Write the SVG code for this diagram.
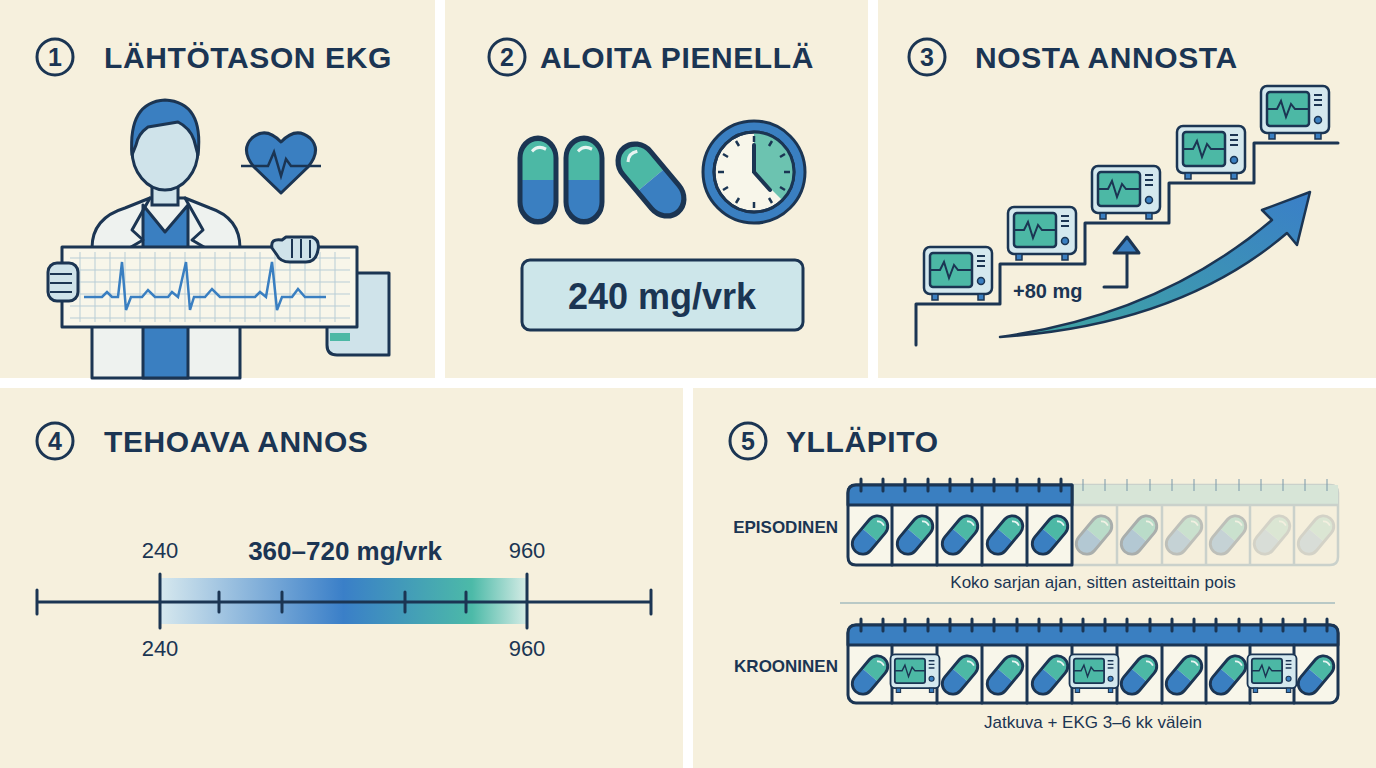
<svg xmlns="http://www.w3.org/2000/svg" width="1376" height="768" viewBox="0 0 1376 768">
<defs>
<style>
.title{font-family:"Liberation Sans",Arial,sans-serif;font-weight:bold;font-size:30px;fill:#1b3553;letter-spacing:0.6px}
.num{font-family:"Liberation Sans",Arial,sans-serif;font-weight:bold;font-size:25px;fill:#1b3553;text-anchor:middle}
.lbl{font-family:"Liberation Sans",Arial,sans-serif;fill:#1b3553}
.nv{stroke:#1b3553;stroke-width:3;stroke-linejoin:round;stroke-linecap:round}
.panel{fill:#f6f0dd}
</style>
<linearGradient id="bar" x1="0" x2="1" y1="0" y2="0">
<stop offset="0" stop-color="#d6e8ee"/><stop offset="0.5" stop-color="#3a7fc8"/><stop offset="0.85" stop-color="#4cbaa8"/><stop offset="1" stop-color="#d6ece6"/>
</linearGradient>
<linearGradient id="arr" x1="0" x2="1" y1="1" y2="0">
<stop offset="0" stop-color="#3fa7a0"/><stop offset="1" stop-color="#3a7fc8"/>
</linearGradient>
<g id="cap">
<path d="M-9,0V-10A9,9 0 0 1 9,-10V0Z" fill="#4cb8a5"/>
<path d="M-9,0V10A9,9 0 0 0 9,10V0Z" fill="#3a7fc1"/>
<rect x="-9" y="-19" width="18" height="38" rx="9" fill="none" stroke="#1b3553" stroke-width="2.5"/>
<path d="M-3,-13Q0,-16 4,-14" fill="none" stroke="#e8f4f2" stroke-width="1.5"/>
</g>
<g id="mon">
<rect x="-34" y="-26" width="68" height="47" rx="6" fill="#d4e8ee" stroke="#1b3553" stroke-width="2.5"/>
<rect x="-28" y="-20" width="42" height="34" rx="3" fill="#4cb8a5" stroke="#1b3553" stroke-width="2.5"/>
<polyline points="-28,-3 -18,-3 -14,-11 -9,5 -4,-8 0,-3 14,-3" fill="none" stroke="#1b3553" stroke-width="2"/>
<path d="M19,-17h8M19,-12h8M19,-7h8" stroke="#1b3553" stroke-width="2"/>
<circle cx="23" cy="8" r="3.5" fill="#3a7fc1" stroke="#1b3553" stroke-width="1.5"/>
<rect x="-26" y="21" width="6" height="6" fill="#3a7fc1" stroke="#1b3553" stroke-width="1.5"/>
<rect x="20" y="21" width="6" height="6" fill="#3a7fc1" stroke="#1b3553" stroke-width="1.5"/>
</g>
</defs>
<rect width="1376" height="768" fill="#ffffff"/>
<rect class="panel" x="0" y="0" width="435" height="378"/>
<rect class="panel" x="445" y="0" width="423" height="378"/>
<rect class="panel" x="878" y="0" width="498" height="378"/>
<rect class="panel" x="0" y="388" width="683" height="380"/>
<rect class="panel" x="693" y="388" width="683" height="380"/>

<g id="panel1">
<circle cx="55" cy="57" r="18" fill="none" class="nv"/><text class="num" x="55" y="66">1</text>
<text class="title" x="104" y="68">LÄHTÖTASON EKG</text>
<path d="M92,378V248Q92,218 125,208L150,198H185L210,208Q240,218 240,248V378Z" fill="#eef2ef" class="nv"/>
<path d="M143,205V378H188V205L165,232Z" fill="#3a7fc1" class="nv"/>
<path d="M150,198L132,230L143,240L126,250M185,198L203,230L192,240L209,250" fill="none" class="nv"/>
<rect x="152" y="180" width="26" height="25" fill="#cfe3ea" stroke="#1b3553" stroke-width="3"/>
<ellipse cx="165" cy="150" rx="33" ry="40" fill="#cfe3ea" class="nv"/>
<path d="M132,155Q128,102 165,100Q204,102 198,155L194,140Q190,128 178,122Q160,125 148,127Q138,134 136,145Z" fill="#3a7fc1" class="nv"/>
<path d="M281,193L254,167Q240,150 252,138Q266,126 281,142Q296,126 310,138Q322,150 308,167Z" fill="#3a7fc1" class="nv"/>
<polyline points="241,166 268,166 274,152 281,176 286,159 291,166 321,166" fill="none" stroke="#1b3553" stroke-width="2.5"/>
<path d="M327,273H389V355H337Q327,355 327,345Z" fill="#cfe3ea" class="nv"/>
<rect x="330" y="333" width="20" height="8" fill="#4cb8a5"/>
<rect x="62" y="247" width="295" height="80" fill="#f8f6ea" class="nv"/>
<g stroke="#b8cdd6" stroke-width="1">
<path d="M70,258H350M70,270H350M70,282H350M70,294H350M70,306H350M70,318H350"/>
<path d="M80,252V322M95,252V322M110,252V322M125,252V322M140,252V322M155,252V322M170,252V322M185,252V322M200,252V322M215,252V322M230,252V322M245,252V322M260,252V322M275,252V322M290,252V322M305,252V322M320,252V322M335,252V322"/>
</g>
<polyline points="84,297 102,297 107,292 112,297 118,297 122,262 126,310 131,297 142,297 148,290 155,297 168,297 172,292 178,297 186,262 190,310 194,297 205,297 212,289 220,297 255,297 260,292 266,297 272,262 277,310 282,297 292,297 298,289 305,297 326,297" fill="none" stroke="#3a7fc1" stroke-width="2.5"/>
<rect x="48" y="263" width="30" height="38" rx="9" fill="#cfe3ea" class="nv"/>
<path d="M50,274H72M50,283H72M50,292H72" stroke="#1b3553" stroke-width="2"/>
<path d="M272,248Q270,238 282,240L286,237H312Q320,240 318,250Q316,262 306,262H290Q280,262 277,255Z" fill="#cfe3ea" class="nv"/>
<path d="M292,239V258M301,239V258M310,240V258" stroke="#1b3553" stroke-width="2"/>
</g>

<g id="panel2">
<circle cx="507" cy="57" r="18" fill="none" class="nv"/><text class="num" x="507" y="66">2</text>
<text class="title" x="540" y="68">ALOITA PIENELLÄ</text>
<use href="#cap" transform="translate(538,180) scale(2,2.2)"/>
<use href="#cap" transform="translate(584,180) scale(2,2.2)"/>
<use href="#cap" transform="translate(651,180) rotate(-40) scale(2,2.2)"/>
<circle cx="754" cy="172" r="51" fill="#3a7fc1" class="nv"/>
<circle cx="754" cy="172" r="40" fill="#f8f6ea" class="nv"/>
<path d="M754,172V132A40,40 0 0 1 782,200Z" fill="#6cc3b0"/>
<circle cx="754" cy="172" r="40" fill="none" class="nv"/>
<g stroke="#1b3553" stroke-width="2.5"><path d="M754,136v6M754,202v6M718,172h6M784,172h6M736,141l3,5M772,141l-3,5M723,154l5,3M785,154l-5,3M723,190l5,-3M785,190l-5,-3M736,203l3,-5M772,203l-3,-5"/></g>
<path d="M754,145V172L770,190" fill="none" stroke="#1b3553" stroke-width="4" stroke-linecap="round"/>
<rect x="522" y="260" width="281" height="70" rx="8" fill="#cde6ea" class="nv"/>
<text class="lbl" x="662" y="309" font-size="36" font-weight="bold" text-anchor="middle">240 mg/vrk</text>
</g>

<g id="panel3">
<circle cx="927" cy="57" r="18" fill="none" class="nv"/><text class="num" x="927" y="66">3</text>
<text class="title" x="975" y="68">NOSTA ANNOSTA</text>
<polyline points="916,345 916,304 1000,304 1000,264 1085,264 1085,223 1169,223 1169,183 1254,183 1254,143 1338,143" fill="none" class="nv"/>
<use href="#mon" transform="translate(958,273)"/>
<use href="#mon" transform="translate(1042,233)"/>
<use href="#mon" transform="translate(1126,192)"/>
<use href="#mon" transform="translate(1211,152)"/>
<use href="#mon" transform="translate(1295,112)"/>
<text class="lbl" x="1013" y="298" font-size="20" font-weight="bold">+80 mg</text>
<path d="M1104,287H1127V252" fill="none" class="nv"/>
<path d="M1114,253L1127,237L1139,253Z" fill="#3a7fc1" class="nv"/>
<path d="M1000,337Q1160,315 1272,220L1262,210L1310,192L1297,245L1287,233Q1180,325 1000,337Z" fill="url(#arr)" stroke="#1b3553" stroke-width="2.5" stroke-linejoin="round"/>
</g>

<g id="panel4">
<circle cx="55" cy="441" r="18" fill="none" class="nv"/><text class="num" x="55" y="450">4</text>
<text class="title" x="104" y="452">TEHOAVA ANNOS</text>
<rect x="160" y="578" width="367" height="46" fill="url(#bar)"/>
<path d="M37,602H651M37,590V614M651,590V614M160,574V628M527,574V628M219,592V612M282,592V612M405,592V612M466,592V612" fill="none" class="nv"/>
<text class="lbl" x="160" y="558" font-size="22" text-anchor="middle">240</text>
<text class="lbl" x="160" y="656" font-size="22" text-anchor="middle">240</text>
<text class="lbl" x="527" y="558" font-size="22" text-anchor="middle">960</text>
<text class="lbl" x="527" y="656" font-size="22" text-anchor="middle">960</text>
<text class="lbl" x="345" y="560" font-size="26" font-weight="bold" text-anchor="middle">360–720 mg/vrk</text>
</g>

<g id="panel5">
<circle cx="748" cy="441" r="18" fill="none" class="nv"/><text class="num" x="748" y="450">5</text>
<text class="title" x="786" y="452">YLLÄPITO</text>
<text class="lbl" x="838" y="533" font-size="17" font-weight="bold" text-anchor="end">EPISODINEN</text>
<text class="lbl" x="838" y="672" font-size="17" font-weight="bold" text-anchor="end">KROONINEN</text>
<g opacity="0.35">
<path d="M1072,485H1330Q1338,485 1338,493V557Q1338,565 1330,565H1072Z" fill="#f5efdc" stroke="#7a99aa" stroke-width="2.5"/>
<rect x="1072" y="485" width="266" height="20" fill="#9fd2cc"/>
<path d="M1117,505V565M1162,505V565M1206,505V565M1250,505V565M1294,505V565M1072,505H1338" stroke="#7a99aa" stroke-width="2.5"/>
<use href="#cap" transform="translate(1094,535) rotate(40) scale(1.15)"/>
<use href="#cap" transform="translate(1139,535) rotate(40) scale(1.15)"/>
</g>
<g opacity="0.25">
<use href="#cap" transform="translate(1184,535) rotate(40) scale(1.15)"/>
<use href="#cap" transform="translate(1228,535) rotate(40) scale(1.15)"/>
</g>
<g opacity="0.15">
<use href="#cap" transform="translate(1272,535) rotate(40) scale(1.15)"/>
<use href="#cap" transform="translate(1316,535) rotate(40) scale(1.15)"/>
</g>
<g stroke="#7a99aa" stroke-width="2" opacity="0.5"><path d="M1083,479v12M1105,479v12M1127,479v12M1150,479v12M1172,479v12M1194,479v12M1216,479v12M1239,479v12M1261,479v12M1283,479v12M1305,479v12M1327,479v12"/></g>
<path d="M1072,485H856Q848,485 848,493V557Q848,565 856,565H1072Z" fill="#f8f6ea" class="nv"/>
<path d="M1072,485H856Q848,485 848,493V505H1072Z" fill="#3a7fc1" class="nv"/>
<path d="M892,505V565M937,505V565M982,505V565M1027,505V565" class="nv"/>
<g class="nv"><path d="M861,479v12M883,479v12M905,479v12M928,479v12M950,479v12M972,479v12M994,479v12M1017,479v12M1039,479v12M1061,479v12"/></g>
<use href="#cap" transform="translate(870,535) rotate(40) scale(1.15)"/>
<use href="#cap" transform="translate(915,535) rotate(40) scale(1.15)"/>
<use href="#cap" transform="translate(960,535) rotate(40) scale(1.15)"/>
<use href="#cap" transform="translate(1005,535) rotate(40) scale(1.15)"/>
<use href="#cap" transform="translate(1050,535) rotate(40) scale(1.15)"/>
<text class="lbl" x="1093" y="588" font-size="17" text-anchor="middle">Koko sarjan ajan, sitten asteittain pois</text>
<path d="M840,603H1335" stroke="#b9c9c6" stroke-width="2"/>
<rect x="848" y="625" width="490" height="78" rx="8" fill="#f8f6ea" class="nv"/>
<path d="M848,645V633Q848,625 856,625H1330Q1338,625 1338,633V645Z" fill="#3a7fc1" class="nv"/>
<path d="M892,645V703M937,645V703M982,645V703M1027,645V703M1072,645V703M1117,645V703M1162,645V703M1206,645V703M1250,645V703M1294,645V703" class="nv"/>
<g class="nv"><path d="M861,619v12M883,619v12M905,619v12M928,619v12M950,619v12M972,619v12M994,619v12M1017,619v12M1039,619v12M1061,619v12M1083,619v12M1105,619v12M1127,619v12M1150,619v12M1172,619v12M1194,619v12M1216,619v12M1239,619v12M1261,619v12M1283,619v12M1305,619v12M1327,619v12"/></g>
<use href="#cap" transform="translate(870,675) rotate(40) scale(1.15)"/>
<use href="#mon" transform="translate(915,673) scale(0.72)"/>
<use href="#cap" transform="translate(960,675) rotate(40) scale(1.15)"/>
<use href="#cap" transform="translate(1005,675) rotate(40) scale(1.15)"/>
<use href="#cap" transform="translate(1050,675) rotate(40) scale(1.15)"/>
<use href="#mon" transform="translate(1094,673) scale(0.72)"/>
<use href="#cap" transform="translate(1139,675) rotate(40) scale(1.15)"/>
<use href="#cap" transform="translate(1184,675) rotate(40) scale(1.15)"/>
<use href="#cap" transform="translate(1228,675) rotate(40) scale(1.15)"/>
<use href="#mon" transform="translate(1272,673) scale(0.72)"/>
<use href="#cap" transform="translate(1316,675) rotate(40) scale(1.15)"/>
<text class="lbl" x="1093" y="728" font-size="17" text-anchor="middle">Jatkuva + EKG 3–6 kk välein</text>
</g>
</svg>
